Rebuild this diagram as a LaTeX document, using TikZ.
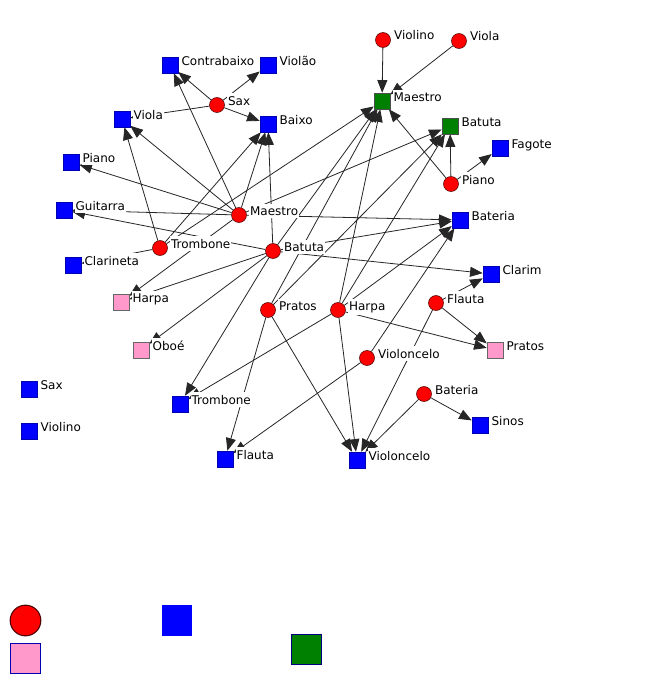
\documentclass[tikz,border=0pt]{standalone}
\usepackage{fontspec}
\setmainfont{DejaVu Sans}
\usetikzlibrary{arrows.meta,backgrounds}
\definecolor{rose}{RGB}{255,153,204}
\definecolor{leaf}{RGB}{0,128,0}
\colorlet{tiecol}{black!85}

\tikzset{
	act/.style={circle,fill=red,draw=black!70!red,inner sep=0pt,minimum size=11.25pt},
	box/.style={rectangle,inner sep=0pt,minimum size=12pt},
	blu/.style={box,fill=blue,draw=blue!70!black},
	pnk/.style={box,fill=rose,draw=black!60},
	grn/.style={box,fill=leaf,draw=black!70},
	lbl/.style={fill=white,inner xsep=0.7pt,inner ysep=2pt,anchor=base west,font=\fontsize{9}{10}\selectfont},
	tie/.style={draw=tiecol,line width=0.6pt,-{Triangle[length=9.5pt,width=7.5pt]}},
	every label/.style={lbl},
	label distance=1.6pt
}

\begin{document}
\begin{tikzpicture}[x=0.75pt,y=-0.75pt]
	\useasboundingbox (0,0) rectangle (661,674);

	% actors
	\node[act,label=0:Sax] (rSax) at (217,105) {};
	\node[act,label=0:Maestro] (rMaestro) at (239,215) {};
	\node[act,label=0:Trombone] (rTrombone) at (160,248) {};
	\node[act,label=0:Batuta] (rBatuta) at (273,251) {};
	\node[act,label=0:Pratos] (rPratos) at (268,310) {};
	\node[act,label=0:Harpa] (rHarpa) at (338,310) {};
	\node[act,label=0:Violoncelo] (rVioloncelo) at (367,358) {};
	\node[act,label=0:Flauta] (rFlauta) at (436,303) {};
	\node[act,label=0:Bateria] (rBateria) at (424,394) {};
	\node[act,label=0:Piano] (rPiano) at (451,184) {};
	\node[act,label=0:Violino] (rViolino) at (383,40) {};
	\node[act,label=0:Viola] (rViola) at (459,41) {};

	% instruments
	\node[blu,label=0:Contrabaixo] (bContrabaixo) at (170,65) {};
	\node[blu,label=0:Violão] (bViolao) at (268,65) {};
	\node[blu,label=0:Viola] (bViola) at (122,119) {};
	\node[blu,label=0:Baixo] (bBaixo) at (268,124) {};
	\node[blu,label=0:Piano] (bPiano) at (71,162) {};
	\node[blu,label=0:Guitarra] (bGuitarra) at (64,210) {};
	\node[blu,label=0:Clarineta] (bClarineta) at (73,265) {};
	\node[blu,label=0:Fagote] (bFagote) at (500,148) {};
	\node[blu,label=0:Bateria] (bBateria) at (460,220) {};
	\node[blu,label=0:Clarim] (bClarim) at (491,274) {};
	\node[blu,label=0:Sinos] (bSinos) at (480,425) {};
	\node[blu,label=0:Violoncelo] (bVioloncelo) at (357,460) {};
	\node[blu,label=0:Flauta] (bFlauta) at (225,459) {};
	\node[blu,label=0:Trombone] (bTrombone) at (180,404) {};
	\node[blu,label=0:Sax] (bSax) at (29,389) {};
	\node[blu,label=0:Violino] (bViolino) at (29,431) {};
	\node[pnk,label=0:Harpa] (pHarpa) at (121,302) {};
	\node[pnk,label=0:Oboé] (pOboe) at (141,350) {};
	\node[pnk,label=0:Pratos] (pPratos) at (495,350) {};
	\node[grn,label=0:Maestro] (gMaestro) at (382,101) {};
	\node[grn,label=0:Batuta] (gBatuta) at (450,126) {};

	% ties
	\begin{scope}[on background layer]
		\fill[white] (0,0) rectangle (661,674);
		\foreach \a/\b in {rSax/bContrabaixo,rSax/bViolao,rSax/bBaixo,rSax/bViola,
			rMaestro/bContrabaixo,rMaestro/bViola,rMaestro/bPiano,rMaestro/bGuitarra,
			rMaestro/bBaixo,rMaestro/pHarpa,rMaestro/bBateria,rMaestro/gBatuta,
			rTrombone/bViola,rTrombone/bBaixo,rTrombone/gMaestro,rTrombone/bClarineta,
			rBatuta/bGuitarra,rBatuta/pHarpa,rBatuta/pOboe,rBatuta/bTrombone,
			rBatuta/bBaixo,rBatuta/gMaestro,rBatuta/bBateria,rBatuta/bClarim,
			rPratos/gMaestro,rPratos/gBatuta,rPratos/bFlauta,rPratos/bVioloncelo,
			rHarpa/gMaestro,rHarpa/gBatuta,rHarpa/bBateria,rHarpa/bVioloncelo,
			rHarpa/bTrombone,rHarpa/pPratos,
			rVioloncelo/bBateria,rVioloncelo/bFlauta,
			rFlauta/bClarim,rFlauta/pPratos,rFlauta/bVioloncelo,
			rBateria/bSinos,rBateria/bVioloncelo,
			rPiano/bFagote,rPiano/gBatuta,rPiano/gMaestro,
			rViolino/gMaestro,rViola/gMaestro}
			\draw[tie] (\a) -- (\b);
	\end{scope}

	% legend
	\node[circle,fill=red,draw=black!70!red,line width=0.8pt,inner sep=0pt,minimum size=23pt] (lgActor) at (25.5,620.5) {};
	\node[rectangle,fill=blue,inner sep=0pt,minimum size=23pt] (lgBlue) at (177,620.5) {};
	\node[rectangle,fill=rose,draw=blue!70!black,inner sep=0pt,minimum size=22.5pt] (lgPink) at (25.5,658) {};
	\node[rectangle,fill=leaf,draw=blue!50!black,inner sep=0pt,minimum size=22.5pt] (lgGreen) at (306,649.5) {};
\end{tikzpicture}
\end{document}
